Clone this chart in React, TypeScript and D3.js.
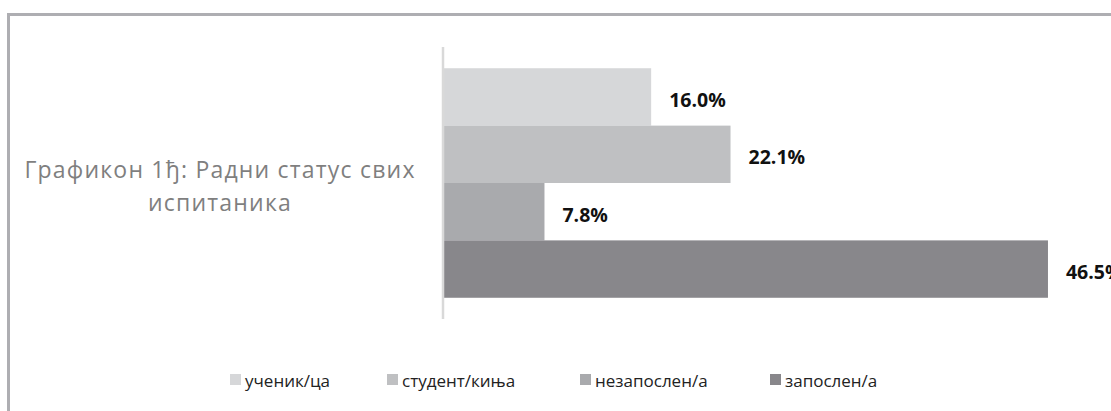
import * as d3 from 'd3';
import React from 'react';

const categories = ['ученик/ца', 'студент/киња', 'незапослен/а', 'запослен/а'];
const values = [16.0, 22.1, 7.8, 46.5];
const colors = ['#d6d7d9', '#bfc0c2', '#a9aaad', '#88878b'];
const legendX = [230, 387, 580, 770];

const W = 1111, H = 411;

const App = () => {
  const x = d3.scaleLinear().domain([0, 50]).range([443, 1093.5]);
  const y = d3.scaleBand().domain(categories).range([47, 319]).paddingInner(0).paddingOuter(0.37);

  return (
    <svg width={W} height={H} style={{ position: 'absolute', left: 0, top: 0 }} fontFamily="'Open Sans', sans-serif">
      <rect x={0} y={0} width={W} height={H} fill="#fff" />
      {/* outer chart frame, runs off the right and bottom edge */}
      <rect x={8.5} y={14.5} width={1300} height={600} fill="none" stroke="#aeaeb2" strokeWidth={3} />

      <text x={220} y={178} textAnchor="middle" fontSize={23} letterSpacing={1.2} fill="#7f7f7f">Графикон 1ђ: Радни статус свих</text>
      <text x={220} y={211} textAnchor="middle" fontSize={23} letterSpacing={1.2} fill="#7f7f7f">испитаника</text>

      {categories.map((c, i) => (
        <rect key={c} x={x(0)} y={y(c)} width={x(values[i]) - x(0)} height={y.bandwidth()} fill={colors[i]} />
      ))}

      <line x1={x(0)} x2={x(0)} y1={y.range()[0]} y2={y.range()[1]} stroke="#d9d9d9" strokeWidth={2.5} />

      {categories.map((c, i) => (
        <text key={c} x={x(values[i]) + 18} y={(y(c) ?? 0) + y.bandwidth() / 2 + 3} dy="0.35em"
          fontSize={19.5} fontWeight="bold" fill="#111">
          {d3.format('.1f')(values[i])}%
        </text>
      ))}

      {categories.map((c, i) => (
        <g key={c} transform={`translate(${legendX[i]},381)`}>
          <rect x={0} y={-7} width={11} height={11} fill={colors[i]} />
          <text x={15} y={0} dy="0.35em" fontSize={17} fill="#222">{c}</text>
        </g>
      ))}
    </svg>
  );
};

export default App;
